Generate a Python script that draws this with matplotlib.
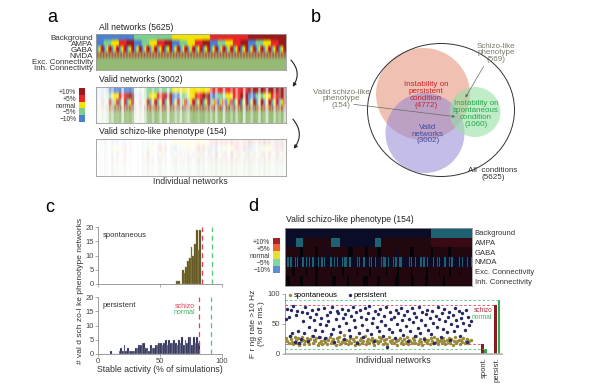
import numpy as np
import matplotlib
matplotlib.use("Agg")
import matplotlib.pyplot as plt
from matplotlib.colors import to_rgb
from matplotlib.patches import Ellipse, FancyArrowPatch

W, H = 600, 392
plt.rcParams['font.family'] = ['Liberation Sans', 'DejaVu Sans']
NARROW = ['Liberation Sans Narrow', 'Liberation Sans', 'DejaVu Sans']

# ---------------- data ----------------
param_levels = [-10, -5, 0, 5, 10]
conn_levels = [-10, -5, 0]
row_names = ["Background", "AMPA", "GABA", "NMDA", "Exc. Connectivity", "Inh. Connectivity"]
level_labels = ["+10%", "+5%", "normal", "\u22125%", "\u221210%"]

# valid / schizo-like networks per block of 75 networks (5625 total)
valid_counts = [8, 4, 10, 6, 12, 45, 30, 60, 55, 65, 20, 62, 58, 66, 50,
                8, 5, 12, 6, 25, 60, 65, 40, 68, 62, 30, 66, 60, 20, 64,
                58, 35, 55, 25, 60, 45, 30, 62, 70, 66, 55, 68, 72, 50, 65,
                40, 70, 30, 68, 72, 25, 66, 70, 45, 72, 35, 68, 74, 20, 70,
                66, 40, 72, 68, 30, 74, 60, 25, 70, 72, 35, 68, 50, 72, 30]
schizo_counts = [0, 1, 0, 2, 1, 0, 3, 1, 2, 0, 1, 2, 0, 1, 0,
                 0, 1, 0, 2, 1, 3, 1, 2, 0, 2, 3, 1, 2, 0, 1,
                 2, 3, 1, 2, 2, 1, 3, 2, 1, 2, 4, 2, 3, 1, 2,
                 3, 2, 4, 1, 3, 2, 3, 1, 4, 2, 3, 2, 1, 3, 2,
                 4, 3, 2, 1, 3, 2, 4, 2, 3, 1, 2, 3, 2, 3, 1]

# panel c histograms
spont_centers = [64.0, 65.4, 66.8, 68.3, 69.7, 71.1, 72.5, 73.9, 75.4, 76.8, 78.2, 79.6, 81.0, 82.5]
spont_hist = [1, 1, 0, 5, 4, 6, 8, 9, 13, 10, 14, 19, 12, 19]
pers_bin_start = 10.0
pers_bin_width = 1.333
pers_hist = [1, 0, 0, 0, 0, 1, 2, 1, 3, 1, 2, 1, 1, 1, 1, 2, 2, 3, 3, 4,
             4, 2, 2, 1, 3, 2, 2, 3, 3, 4, 4, 3, 4, 5, 3, 5, 4, 4, 5, 4,
             3, 5, 4, 6, 3, 5, 4, 6, 6, 3, 6, 4, 6, 4]
spont_thr = {"schizo": 83.5, "normal": 92.0}
pers_thr = {"schizo": 81.5, "normal": 91.0}

# panel d heatmap, run-length (level, count) per row, 154 networks
bg_runs = [(-5, 120), (-10, 34)]
ampa_runs = [(-5, 9), (-10, 6), (5, 23), (-10, 7), (-5, 29), (-10, 5), (5, 41), (10, 34)]
gaba_runs = [(5, 12), (0, 3), (5, 10), (0, 2), (5, 8), (-5, 2), (5, 15), (0, 4), (5, 10), (0, 2),
             (5, 8), (0, 3), (5, 12), (-5, 2), (5, 10), (0, 3), (5, 14), (0, 2), (5, 12), (0, 3), (5, 17)]
nmda_pairs = [(2, 1), (1, 2), (2, 1), (1, 1), (3, 2), (1, 1), (2, 1), (1, 2), (3, 1), (2, 1), (1, 1),
              (4, 2), (1, 1), (2, 1), (3, 1), (1, 2), (2, 1), (5, 1), (1, 1), (2, 2), (3, 1), (1, 1),
              (2, 1), (4, 1), (1, 2), (2, 1), (3, 1), (1, 1), (2, 2), (6, 1), (1, 1), (2, 1), (3, 2),
              (1, 1), (2, 1), (4, 1), (2, 1), (1, 1), (3, 2), (2, 1), (1, 1), (5, 1), (2, 1), (3, 1), (2, 1)]
exc_runs = [(5, 6), (0, 2), (5, 9), (0, 1), (5, 7), (0, 2), (5, 11), (0, 1), (5, 8), (0, 2), (5, 10),
            (0, 1), (5, 9), (0, 2), (5, 12), (0, 1), (5, 8), (0, 2), (5, 10), (0, 1), (5, 11), (0, 2),
            (5, 9), (0, 1), (5, 7), (0, 2), (5, 6), (0, 1), (5, 10)]
inh_runs = [(0, 4), (5, 8), (0, 3), (5, 10), (0, 2), (5, 12), (0, 3), (5, 9), (0, 2), (5, 11), (0, 4),
            (5, 8), (0, 2), (5, 13), (0, 3), (5, 10), (0, 2), (5, 9), (0, 3), (5, 12), (0, 2), (5, 22)]

# panel d firing rates (% of sims with rate > 10 Hz)
spont_rate = [27, 22, 18, 30, 25, 20, 16, 28, 23, 19, 26, 15, 21, 29,
              24, 17, 22, 27, 20, 16, 25, 30, 18, 23, 21, 26, 15, 19,
              28, 22, 17, 24, 20, 27, 16, 23, 29, 18, 21, 25, 19, 15,
              26, 22, 28, 17, 20, 24, 31, 18, 23, 16, 21, 27, 19, 25,
              22, 15, 28, 20, 17, 24, 26, 19, 22, 30, 16, 21, 25, 18,
              23, 27, 20, 15, 24, 22, 18, 29, 21, 26, 17, 23, 19, 25,
              16, 28, 22, 20, 24, 18, 27, 21, 15, 23, 26, 19, 22, 17,
              25, 20, 28, 16, 24, 21, 18, 26, 23, 19, 30, 17, 22, 25,
              20, 15, 27, 21, 24, 18, 23, 16, 26, 22, 19, 28, 20, 25,
              17, 21, 24, 18, 27, 22, 16, 23, 20, 26, 19, 25, 15, 22,
              28, 18, 21, 24, 17, 23, 20, 26, 19, 22, 25, 18, 21, 24]
pers_rate = [58, 75, 62, 30, 73, 35, 80, 20, 65, 72, 38, 18, 25, 70,
             55, 35, 78, 68, 22, 45, 62, 73, 30, 56, 40, 67, 75, 28,
             50, 60, 38, 77, 26, 48, 65, 55, 70, 33, 79, 42, 20, 58,
             72, 68, 47, 36, 75, 60, 25, 66, 52, 74, 40, 30, 63, 78,
             56, 45, 70, 18, 35, 73, 62, 48, 28, 76, 58, 40, 68, 80,
             33, 52, 60, 22, 72, 45, 66, 38, 75, 55, 30, 64, 48, 78,
             12, 42, 70, 58, 36, 62, 26, 74, 50, 68, 40, 77, 57, 32,
             65, 46, 72, 21, 59, 38, 76, 53, 68, 30, 62, 44, 78, 35,
             56, 70, 25, 48, 66, 74, 40, 60, 33, 72, 52, 18, 64, 45,
             79, 58, 28, 68, 42, 75, 55, 36, 62, 70, 23, 50, 65, 38,
             77, 57, 46, 72, 30, 60, 68, 52, 40, 74, 20, 62, 48, 55]
bar_groups = ["spont.", "persist."]
bar_schizo = [16.7, 81.6]
bar_normal = [8.3, 90.5]

# ---------------- colours ----------------
a_colors = {10: '#9a1a1a', 5: '#ec2626', 0: '#f2e400', -5: '#7fce8e', -10: '#4c7fd2'}
d_leg_colors = {10: '#a8202a', 5: '#f06030', 0: '#e8e030', -5: '#80d8a0', -10: '#5c8ed8'}
d_map_colors = {10: '#3a0a14', 5: '#22070f', 0: '#050509', -5: '#0b0c28', -10: '#1c6272'}
RED = '#e0405a'
GREEN = '#50c878'
GRAY = '#8c8c8c'
SPONT_C = '#9a8a3c'
PERS_C = '#262a62'

fig = plt.figure(figsize=(W / 100, H / 100), dpi=100)


def px_axes(x0, y0, x1, y1):
    return fig.add_axes([x0 / W, 1 - y1 / H, (x1 - x0) / W, (y1 - y0) / H])


def ftext(x, y, s, **kw):
    return fig.text(x / W, 1 - y / H, s, **kw)


def style_frame(ax):
    for sp in ax.spines.values():
        sp.set_color('#9a9a9a')
        sp.set_linewidth(0.6)


def to_img(rows, cmap):
    lut = np.array([to_rgb(cmap[v]) for v in param_levels])
    idx = np.searchsorted(param_levels, rows)
    return lut[idx]


# ---------------- panel a ----------------
grids = np.meshgrid(param_levels, param_levels, param_levels, param_levels,
                    conn_levels, conn_levels, indexing='ij')
all_nets = np.array([g.ravel() for g in grids])
img_all = to_img(all_nets, a_colors)

alpha_valid = np.repeat(np.array(valid_counts) / 75.0, 75)
img_valid = 1 - alpha_valid[None, :, None] * (1 - img_all)
alpha_sch = np.clip(np.repeat(np.array(schizo_counts) * 0.035, 75), 0, 1)
img_sch = 1 - alpha_sch[None, :, None] * (1 - img_all)

panels_a = [((96, 34, 286, 70), img_all, "All networks (5625)"),
            ((96, 87, 286, 123), img_valid, "Valid networks (3002)"),
            ((96, 139, 286, 176), img_sch, "Valid schizo-like phenotype (154)")]
for i, (box, img, title) in enumerate(panels_a):
    ax = px_axes(*box)
    ax.imshow(img, aspect='auto')
    ax.set_xticks([])
    if i == 0:
        ax.set_yticks(range(6))
        ax.set_yticklabels(row_names, fontsize=5.8, family=NARROW, color='#333333')
        ax.tick_params(axis='y', length=0, pad=2)
    else:
        ax.set_yticks([])
    style_frame(ax)
    ftext(99, box[1] - 2.5, title, fontsize=6.2, family=NARROW, color='#222222', va='bottom')
ftext(190, 182, "Individual networks", fontsize=6.3, ha='center', va='center', color='#333333')

ax_la = px_axes(79, 88, 85, 122)
ax_la.imshow(np.array([[to_rgb(a_colors[v])] for v in param_levels[::-1]]), aspect='auto')
ax_la.set_xticks([])
ax_la.set_yticks(range(5))
ax_la.set_yticklabels(level_labels, fontsize=4.8, family=NARROW, color='#333333')
ax_la.tick_params(axis='y', length=0, pad=2)
for sp in ax_la.spines.values():
    sp.set_visible(False)

for (xa, ya), (xb, yb) in [((289, 58), (291, 89)), ((291, 117), (292, 151))]:
    fig.add_artist(FancyArrowPatch((xa / W, 1 - ya / H), (xb / W, 1 - yb / H),
                                   transform=fig.transFigure, connectionstyle='arc3,rad=-0.45',
                                   arrowstyle='-|>', mutation_scale=5, lw=0.8, color='#222222'))

# ---------------- panel b ----------------
ax_b = px_axes(300, 0, 600, 200)
ax_b.set_xlim(300, 600)
ax_b.set_ylim(200, 0)
ax_b.axis('off')
ax_b.add_patch(Ellipse((423, 94), 94, 92, color='#eba792', alpha=0.7, lw=0))
ax_b.add_patch(Ellipse((425, 133), 79, 80, color='#9488d6', alpha=0.55, lw=0))
ax_b.add_patch(Ellipse((475, 112), 51, 50, color='#98e0a4', alpha=0.6, lw=0))
ax_b.add_patch(Ellipse((441, 110), 147, 133, fill=False, ec='#333333', lw=0.7))

tkw = dict(ha='center', va='center', family=NARROW, fontsize=5.8, linespacing=0.95)
ax_b.text(426, 95, "Instability on\npersistent\ncondition\n(4772)", color='#c8242c', **tkw)
ax_b.text(428, 134, "Valid\nnetworks\n(3002)", color='#3c4aa0', **tkw)
ax_b.text(476, 114, "Instability on\nspontaneous\ncondition\n(1060)", color='#1fa84a', **tkw)
ax_b.text(496, 53, "Schizo-like\nphenotype\n(569)", color='#7a7a6a', **tkw)
ax_b.text(341, 99, "Valid schizo-like\nphenotype\n(154)", color='#7a7a6a', **tkw)
ax_b.text(493, 174, "All  conditions\n(5625)", color='#333333', **tkw)
for pa, pb in [((485, 64), (464, 100)), ((351, 104), (458, 117))]:
    ax_b.add_patch(FancyArrowPatch(pa, pb, arrowstyle='-|>', mutation_scale=4,
                                   lw=0.5, color='#6a6a60'))

ftext(52, 18, "a", fontsize=13, ha='center', va='center')
ftext(316, 17, "b", fontsize=13, ha='center', va='center')
ftext(50, 208, "c", fontsize=13, ha='center', va='center')
ftext(253, 207, "d", fontsize=13, ha='center', va='center')

# ---------------- panel c ----------------
ax_cs = px_axes(98, 227, 222, 284)
ax_cp = px_axes(98, 297, 222, 354)
pers_centers = pers_bin_start + pers_bin_width * (np.arange(len(pers_hist)) + 0.5)
ax_cs.bar(spont_centers, spont_hist, width=1.42, color='#51491c', edgecolor='#a99c52', lw=0.3)
ax_cp.bar(pers_centers, pers_hist, width=pers_bin_width, color='#1b1e44', edgecolor='#c8c8d8', lw=0.25)
for ax, thr in [(ax_cs, spont_thr), (ax_cp, pers_thr)]:
    ax.axvline(thr["schizo"], color=RED, lw=0.9, ls=(0, (4, 3)))
    ax.axvline(thr["normal"], color=GREEN, lw=0.9, ls=(0, (4, 3)))
    ax.set_xlim(0, 100)
    ax.set_ylim(0, 20)
    ax.set_yticks([0, 5, 10, 15, 20])
    ax.set_xticks([0, 50, 100])
    for s in ['top', 'right']:
        ax.spines[s].set_visible(False)
    for s in ['left', 'bottom']:
        ax.spines[s].set_color(GRAY)
        ax.spines[s].set_linewidth(0.6)
    ax.tick_params(labelsize=5.5, length=2, width=0.5, color=GRAY, labelcolor='#444444', pad=1)
ax_cs.set_xticklabels([])
ax_cp.set_xlabel("Stable activity (% of simulations)", fontsize=6.3, labelpad=0, color='#333333')
ax_cs.text(0.04, 0.82, "spontaneous", transform=ax_cs.transAxes, fontsize=5.5, color='#333333')
ax_cp.text(0.04, 0.82, "persistent", transform=ax_cp.transAxes, fontsize=5.5, color='#333333')
ax_cp.text(0.78, 0.80, "schizo", transform=ax_cp.transAxes, fontsize=5, color=RED, ha='right', family=NARROW)
ax_cp.text(0.78, 0.70, "normal", transform=ax_cp.transAxes, fontsize=5, color='#3cb464', ha='right', family=NARROW)
ftext(80, 291, "# val d sch zo-l ke phenotype networks", rotation=90, fontsize=6,
      ha='center', va='center', color='#333333')

# ---------------- panel d ----------------
ax_ld = px_axes(273, 238, 280, 273)
ax_ld.imshow(np.array([[to_rgb(d_leg_colors[v])] for v in param_levels[::-1]]), aspect='auto')
ax_ld.set_xticks([])
ax_ld.set_yticks(range(5))
ax_ld.set_yticklabels(level_labels, fontsize=4.8, family=NARROW, color='#333333')
ax_ld.tick_params(axis='y', length=0, pad=2)
for sp in ax_ld.spines.values():
    sp.set_visible(False)


def expand(runs):
    return np.concatenate([np.full(n, v) for v, n in runs])


nmda_runs = [r for d, t in nmda_pairs for r in ((-5, d), (-10, t))]
d_rows = np.array([expand(bg_runs), expand(ampa_runs), expand(gaba_runs),
                   expand(nmda_runs), expand(exc_runs), expand(inh_runs)])
ax_dh = px_axes(285, 228, 472, 286)
ax_dh.imshow(to_img(d_rows, d_map_colors), aspect='auto', interpolation='nearest')
ax_dh.set_xticks([])
ax_dh.yaxis.tick_right()
ax_dh.set_yticks(range(6))
ax_dh.set_yticklabels(row_names, fontsize=5.5, family=NARROW, color='#333333')
ax_dh.tick_params(axis='y', length=0, pad=2)
style_frame(ax_dh)
ftext(286, 224, "Valid schizo-like phenotype (154)", fontsize=6.2, family=NARROW, color='#222222', va='bottom')

ax_ds = px_axes(285, 294, 502, 354)
nets = np.arange(1, len(pers_rate) + 1)
ax_ds.scatter(nets, spont_rate, s=6, color=SPONT_C, lw=0, label='spontaneous', zorder=3)
ax_ds.scatter(nets, pers_rate, s=6, color=PERS_C, lw=0, label='persistent', zorder=3)
grp_x = [165.0, 176.0]
ax_ds.bar([g - 1.5 for g in grp_x], bar_schizo, width=2.4, color='#8c1a22', zorder=2)
ax_ds.bar([g + 1.5 for g in grp_x], bar_normal, width=2.4, color='#34a84e', zorder=2)
ls = (0, (3, 2.5))
ax_ds.hlines(bar_schizo[0], 0, grp_x[0] - 1.5, color=RED, lw=0.6, ls=ls)
ax_ds.hlines(bar_normal[0], 0, grp_x[0] + 1.5, color=GREEN, lw=0.6, ls=ls)
ax_ds.hlines(bar_schizo[1], 0, grp_x[1] - 1.5, color=RED, lw=0.6, ls=ls)
ax_ds.hlines(bar_normal[1], 0, grp_x[1] + 1.5, color=GREEN, lw=0.6, ls=ls)
ax_ds.set_xlim(0, 180)
ax_ds.set_ylim(0, 100)
ax_ds.set_yticks([0, 50, 100])
ax_ds.set_xticks(grp_x)
ax_ds.set_xticklabels(bar_groups, rotation=90, fontsize=5.5, color='#333333')
ax_ds.tick_params(axis='x', length=0, pad=2)
ax_ds.tick_params(axis='y', labelsize=5.5, length=2, width=0.5, color=GRAY, labelcolor='#444444', pad=1.5)
for s in ['top', 'right']:
    ax_ds.spines[s].set_visible(False)
ax_ds.spines['left'].set_color(GRAY)
ax_ds.spines['left'].set_linewidth(0.6)
ax_ds.spines['bottom'].set_color('#b0b0b0')
ax_ds.spines['bottom'].set_linewidth(1.2)
ax_ds.text(0.5, -0.11, "Individual networks", transform=ax_ds.transAxes, fontsize=6.3,
           ha='center', va='center', color='#333333')
ax_ds.set_ylabel("F r ng rate >10 Hz\n(% of s ms.)", fontsize=6, labelpad=2, color='#333333',
                 linespacing=1.1)
ax_ds.text(172, 73, "schizo", fontsize=4.8, color='#b02838', ha='right', va='center', family=NARROW)
ax_ds.text(172, 61, "normal", fontsize=4.8, color='#3cb464', ha='right', va='center', family=NARROW)
ax_ds.legend(loc='center left', bbox_to_anchor=(0.01, 0.985), ncol=2, frameon=False,
             fontsize=5.5, handletextpad=0.05, columnspacing=1.2, handlelength=0.8,
             borderpad=0, borderaxespad=0, markerscale=1.0)

fig.savefig("out.png", dpi=100)
